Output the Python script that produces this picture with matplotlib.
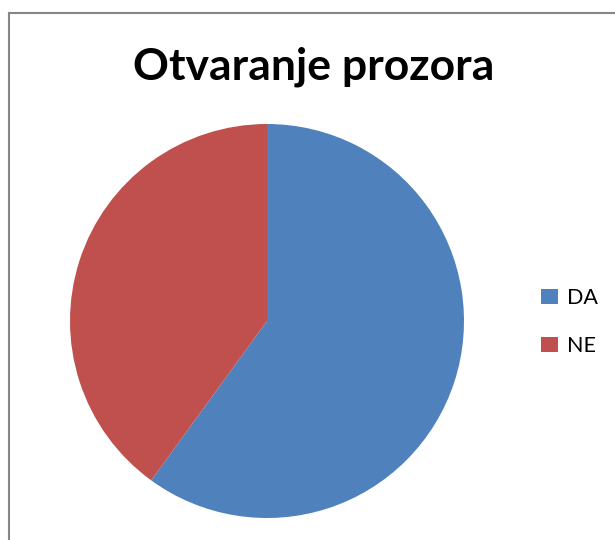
import matplotlib.pyplot as plt
from matplotlib.lines import Line2D

# data
labels = ['DA', 'NE']
values = [60, 40]
colors = ['#4F81BD', '#C0504D']
title = 'Otvaranje prozora'

W, H = 615, 540
fig = plt.figure(figsize=(W / 100, H / 100), dpi=100)
fig.patch.set_facecolor('white')

# chart frame (only left and top edge visible in the crop)
fig.add_artist(Line2D([8.5 / W, 8.5 / W], [0, 1 - 13 / H], color='#868686', lw=1.5, transform=fig.transFigure))
fig.add_artist(Line2D([8.5 / W, 1], [1 - 13 / H, 1 - 13 / H], color='#868686', lw=1.5, transform=fig.transFigure))

# pie
cx, cy, r = 267, 321, 197
ax = fig.add_axes([(cx - r) / W, 1 - (cy + r) / H, 2 * r / W, 2 * r / H])
wedges, _ = ax.pie(values, colors=colors, startangle=90, counterclock=False,
                   radius=1, wedgeprops=dict(linewidth=0))
ax.set_xlim(-1, 1)
ax.set_ylim(-1, 1)
ax.set_aspect('equal')
ax.axis('off')

fig.text(314 / W, 1 - 67 / H, title, ha='center', va='center',
         fontsize=32, fontweight='bold', family='Lato')

leg = fig.legend(wedges, labels, loc='center left', bbox_to_anchor=(522 / W, 1 - 322 / H),
                 frameon=False, prop={'family': 'Lato', 'size': 15.5},
                 handlelength=0.75, handleheight=0.75, handletextpad=0.45, labelspacing=1.3)

fig.savefig('out.png', dpi=100)
